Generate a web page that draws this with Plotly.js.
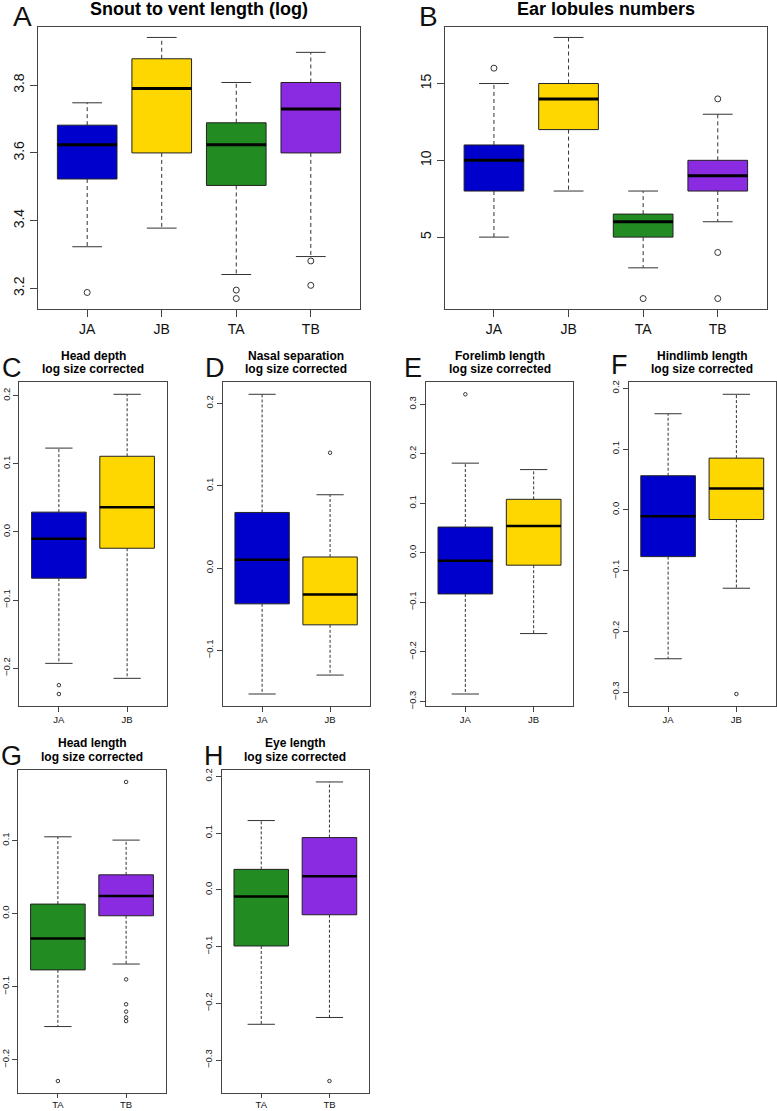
<!DOCTYPE html>
<html>
<head>
<meta charset="utf-8">
<script src="https://cdn.plot.ly/plotly-3.0.1.min.js"></script>
<style>
  body { margin: 0; background: #fff; }
  #chart { width: 777px; height: 1111px; }
</style>
</head>
<body>
<div id="chart"></div>
<script>
var W = 777, H = 1111;

var groupsAll = ['JA', 'JB', 'TA', 'TB'];
var groupsJ = ['JA', 'JB'];
var groupsT = ['TA', 'TB'];

// each group: [lower whisker, Q1, median, Q3, upper whisker]
var snoutVent = [
  [3.323, 3.523, 3.624, 3.682, 3.748],
  [3.378, 3.600, 3.790, 3.878, 3.941],
  [3.241, 3.504, 3.624, 3.689, 3.808],
  [3.294, 3.600, 3.730, 3.808, 3.897]
];
var snoutVentOut = [[3.188], [], [3.195, 3.170], [3.281, 3.209]];

var earLobules = [
  [5, 8, 10, 11, 15],
  [8, 12, 14, 15, 18],
  [3, 5, 6, 6.5, 8],
  [6, 8, 9, 10, 13]
];
var earLobulesOut = [[16], [], [1], [14, 4, 1]];

var headDepth = [[-0.193, -0.068, -0.010, 0.029, 0.123], [-0.215, -0.024, 0.036, 0.111, 0.202]];
var headDepthOut = [[-0.225, -0.238], []];

var nasalSep = [[-0.153, -0.0435, 0.010, 0.0675, 0.211], [-0.130, -0.069, -0.032, 0.0134, 0.089]];
var nasalSepOut = [[], [0.140]];

var forelimb = [[-0.285, -0.083, -0.016, 0.052, 0.181], [-0.163, -0.025, 0.054, 0.108, 0.168]];
var forelimbOut = [[0.320], []];

var hindlimb = [[-0.245, -0.077, -0.0105, 0.056, 0.158], [-0.129, -0.016, 0.035, 0.085, 0.190]];
var hindlimbOut = [[], [-0.303]];

var headLength = [[-0.1545, -0.077, -0.034, 0.013, 0.105], [-0.069, -0.003, 0.024, 0.053, 0.1005]];
var headLengthOut = [[-0.229], [0.180, -0.090, -0.124, -0.134, -0.142, -0.147]];

var eyeLength = [[-0.237, -0.099, -0.012, 0.036, 0.122], [-0.225, -0.044, 0.024, 0.092, 0.190]];
var eyeLengthOut = [[], [-0.337]];

var BLUE = '#0000CD', GOLD = '#FFD700', GREEN = '#228B22', PURPLE = '#8A2BE2';

var panels = [
  {letter: 'A', title: ['Snout to vent length (log)'], data: snoutVent, out: snoutVentOut, groups: groupsAll,
   colors: [BLUE, GOLD, GREEN, PURPLE], box: [38, 360, 27, 309], dtick: 0.2, fmt: '.1f', big: true,
   letterPos: [22, 0], titleY: [9]},
  {letter: 'B', title: ['Ear lobules numbers'], data: earLobules, out: earLobulesOut, groups: groupsAll,
   colors: [BLUE, GOLD, GREEN, PURPLE], box: [444.7, 767, 27, 309], dtick: 5, fmt: 'd', big: true,
   letterPos: [428, 0], titleY: [9]},
  {letter: 'C', title: ['Head depth', 'log size corrected'], data: headDepth, out: headDepthOut, groups: groupsJ,
   colors: [BLUE, GOLD], box: [19.3, 166.7, 382.3, 706], dtick: 0.1, fmt: '.1f',
   letterPos: [12, 352], titleY: [355.7, 369.3]},
  {letter: 'D', title: ['Nasal separation', 'log size corrected'], data: nasalSep, out: nasalSepOut, groups: groupsJ,
   colors: [BLUE, GOLD], box: [222.7, 369.5, 382.3, 706], dtick: 0.1, fmt: '.1f',
   letterPos: [215, 352], titleY: [355.7, 369.3]},
  {letter: 'E', title: ['Forelimb length', 'log size corrected'], data: forelimb, out: forelimbOut, groups: groupsJ,
   colors: [BLUE, GOLD], box: [425.7, 573.3, 382.3, 706], dtick: 0.1, fmt: '.1f',
   letterPos: [413, 352], titleY: [355.7, 369.3]},
  {letter: 'F', title: ['Hindlimb length', 'log size corrected'], data: hindlimb, out: hindlimbOut, groups: groupsJ,
   colors: [BLUE, GOLD], box: [628.5, 776, 382.3, 706], dtick: 0.1, fmt: '.1f',
   letterPos: [619, 349], titleY: [355.7, 369.3]},
  {letter: 'G', title: ['Head length', 'log size corrected'], data: headLength, out: headLengthOut, groups: groupsT,
   colors: [GREEN, PURPLE], box: [18.3, 165.7, 770, 1093], dtick: 0.1, fmt: '.1f', bottom: true,
   letterPos: [11, 740], titleY: [743.3, 757.3]},
  {letter: 'H', title: ['Eye length', 'log size corrected'], data: eyeLength, out: eyeLengthOut, groups: groupsT,
   colors: [GREEN, PURPLE], box: [221.7, 369, 770, 1093], dtick: 0.1, fmt: '.1f', bottom: true,
   letterPos: [214, 740], titleY: [743.3, 757.3]}
];

var traces = [];
var layout = {
  width: W, height: H,
  margin: {l: 0, r: 0, t: 0, b: 0},
  paper_bgcolor: '#fff', plot_bgcolor: '#fff',
  showlegend: false,
  font: {family: 'Liberation Sans, Arial, sans-serif', color: '#111'},
  annotations: []
};

panels.forEach(function (p, k) {
  var n = k + 1;
  var xr = 'x' + (n === 1 ? '' : n), yr = 'y' + (n === 1 ? '' : n);
  var ng = p.groups.length;

  // R-style range: 4% padding around data
  var all = [];
  p.data.forEach(function (d, i) { all = all.concat(d, p.out[i]); });
  var lo = Math.min.apply(null, all), hi = Math.max.apply(null, all);
  var pad = (hi - lo) * 0.04;

  var wx = [], wy = [], cx = [], cy = [], mx = [], my = [], ox = [], oy = [];
  p.data.forEach(function (d, i) {
    var pos = i + 1;
    traces.push({
      type: 'box', x: [pos], q1: [d[1]], median: [d[2]], q3: [d[3]],
      lowerfence: [d[1]], upperfence: [d[3]], width: 0.8, whiskerwidth: 0,
      fillcolor: p.colors[i], line: {color: '#222', width: 1},
      xaxis: xr, yaxis: yr, hoverinfo: 'skip', showlegend: false
    });
    wx.push(pos, pos, null, pos, pos, null);
    wy.push(d[3], d[4], null, d[1], d[0], null);
    cx.push(pos - 0.2, pos + 0.2, null, pos - 0.2, pos + 0.2, null);
    cy.push(d[4], d[4], null, d[0], d[0], null);
    mx.push(pos - 0.4, pos + 0.4, null);
    my.push(d[2], d[2], null);
    p.out[i].forEach(function (v) { ox.push(pos); oy.push(v); });
  });

  traces.push({type: 'scatter', mode: 'lines', x: wx, y: wy, xaxis: xr, yaxis: yr, hoverinfo: 'skip',
    line: {color: '#333', width: 1, dash: p.big ? '4px,3px' : '3px,2px'}});
  traces.push({type: 'scatter', mode: 'lines', x: cx, y: cy, xaxis: xr, yaxis: yr, hoverinfo: 'skip',
    line: {color: '#333', width: 1}});
  traces.push({type: 'scatter', mode: 'lines', x: mx, y: my, xaxis: xr, yaxis: yr, hoverinfo: 'skip',
    line: {color: '#000', width: p.big ? 3 : 2.5}});
  traces.push({type: 'scatter', mode: 'markers', x: ox, y: oy, xaxis: xr, yaxis: yr, hoverinfo: 'skip',
    marker: {symbol: 'circle-open', size: p.big ? 6 : 3.5, color: '#333', line: {width: 1}}});

  var b = p.box;
  layout['xaxis' + (n === 1 ? '' : n)] = {
    domain: [b[0] / W, b[1] / W], anchor: yr,
    range: [0.5 - 0.04 * ng, ng + 0.5 + 0.04 * ng],
    tickvals: p.groups.map(function (g, i) { return i + 1; }), ticktext: p.groups,
    ticks: 'outside', ticklen: p.big ? 7 : (p.bottom ? 4 : 5), tickwidth: 1, tickcolor: '#444',
    ticklabelstandoff: p.bottom ? -1 : 0,
    showline: true, linecolor: '#444', linewidth: 1, mirror: true,
    showgrid: false, zeroline: false, fixedrange: true,
    tickfont: {size: p.big ? 14 : 9.5, color: '#111'}
  };
  layout['yaxis' + (n === 1 ? '' : n)] = {
    domain: [1 - b[3] / H, 1 - b[2] / H], anchor: xr,
    range: [lo - pad, hi + pad],
    dtick: p.dtick, tick0: 0, tickformat: p.fmt, tickangle: -90,
    ticks: 'outside', ticklen: p.big ? 7 : 5, tickwidth: 1, tickcolor: '#444',
    showline: true, linecolor: '#444', linewidth: 1, mirror: true,
    showgrid: false, zeroline: false, fixedrange: true,
    tickfont: {size: p.big ? 14 : 9.5, color: '#111'}
  };

  var cxp = (b[0] + b[1]) / 2 / W;
  p.title.forEach(function (t, j) {
    layout.annotations.push({
      text: '<b>' + t + '</b>', xref: 'paper', yref: 'paper',
      x: cxp, y: 1 - p.titleY[j] / H, xanchor: 'center', yanchor: 'middle',
      showarrow: false, font: {size: p.big ? 18 : 12, color: '#000'}
    });
  });
  layout.annotations.push({
    text: p.letter, xref: 'paper', yref: 'paper',
    x: p.letterPos[0] / W, y: 1 - p.letterPos[1] / H, xanchor: 'center', yanchor: 'top',
    borderpad: 0, showarrow: false, font: {size: p.big ? 28 : 27, color: '#111'}
  });
});

Plotly.newPlot('chart', traces, layout, {displayModeBar: false, staticPlot: true});
</script>
</body>
</html>
